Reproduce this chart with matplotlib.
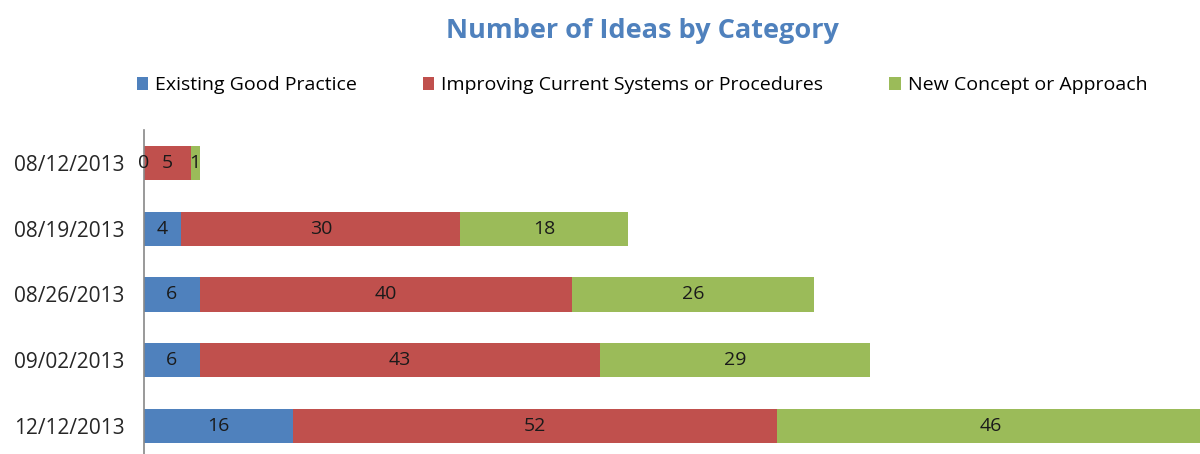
import numpy as np
import matplotlib
matplotlib.use('Agg')
import matplotlib.pyplot as plt
from matplotlib.patches import Patch

dates = ['08/12/2013', '08/19/2013', '08/26/2013', '09/02/2013', '12/12/2013']
existing = [0, 4, 6, 6, 16]
improving = [5, 30, 40, 43, 52]
new_concept = [1, 18, 26, 29, 46]

series_names = ['Existing Good Practice', 'Improving Current Systems or Procedures', 'New Concept or Approach']
colors = ['#4F81BD', '#C0504D', '#9BBB59']

plt.rcParams['font.family'] = ['Open Sans', 'DejaVu Sans']

fig = plt.figure(figsize=(12, 4.54), dpi=100)
# axis band from y=130px to 459px (bottom slightly cut off like the reference)
ax = fig.add_axes([0.12, -0.011, 0.88, 0.7247])

y = np.arange(len(dates))
left = np.zeros(len(dates))
for vals, col in zip([existing, improving, new_concept], colors):
    vals = np.array(vals)
    ax.barh(y, vals, left=left, height=0.52, color=col)
    for yi, l, v in zip(y, left, vals):
        ax.text(l + v / 2, yi, str(v), ha='center', va='center',
                fontsize=14, color='#1a1a1a', clip_on=False, zorder=5)
    left = left + vals

ax.set_xlim(0, 113.5)
ax.set_ylim(len(dates) - 0.5, -0.5)
ax.set_yticks(y)
ax.set_yticklabels(dates, fontsize=15, color='#262626')
ax.tick_params(axis='y', length=0, pad=14)
ax.set_xticks([])
for s in ['top', 'right', 'bottom']:
    ax.spines[s].set_visible(False)
ax.spines['left'].set_color('#888888')
ax.spines['left'].set_linewidth(1.2)

fig.text(0.535, 0.932, 'Number of Ideas by Category', ha='center', va='center',
         fontsize=19.5, fontweight='bold', color='#4F81BD')

handles = [Patch(facecolor=c, edgecolor='none') for c in colors]
fig.legend(handles, series_names, loc='center', bbox_to_anchor=(0.535, 0.812),
           ncol=3, frameon=False, fontsize=14, handlelength=0.58, handleheight=0.58,
           handletextpad=0.36, columnspacing=3.4)

fig.savefig('out.png', dpi=100)
